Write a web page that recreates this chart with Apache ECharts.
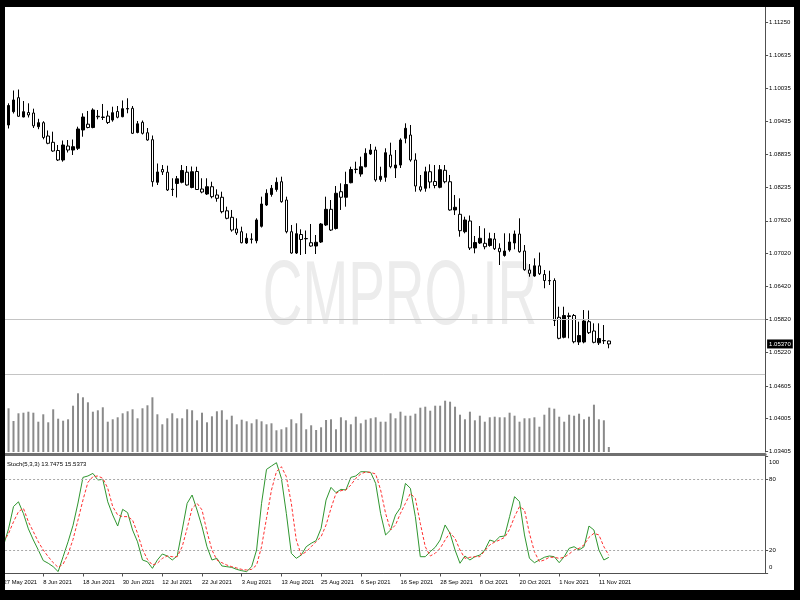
<!DOCTYPE html>
<html><head><meta charset="utf-8">
<script src="https://cdn.jsdelivr.net/npm/echarts@6/dist/echarts.min.js"></script>
<style>
html,body{margin:0;padding:0;background:#000;width:800px;height:600px;overflow:hidden;}
#chart{position:absolute;left:0;top:0;width:800px;height:600px;}
</style></head><body><div id="chart"></div>
<script>
const FONT = '"Liberation Sans",Arial,sans-serif';

// Daily bars, 27 May 2021 .. 15 Nov 2021
const opens = [1.09296,1.09369,1.09612,1.09868,1.09515,1.09597,1.09588,1.09338,1.09411,1.09168,
 1.09053,1.08903,1.08730,1.08985,1.08912,1.08943,1.09278,1.09384,1.09323,1.09528,
 1.09515,1.09533,1.09460,1.09616,1.09521,1.09661,1.09674,1.09232,1.09418,1.09228,
 1.09101,1.08323,1.08556,1.08507,1.08197,1.08301,1.08323,1.08507,1.08228,1.08520,
 1.08200,1.08109,1.08242,1.08091,1.08049,1.07802,1.07683,1.07470,1.07420,1.07214,
 1.07281,1.07256,1.07519,1.07908,1.08100,1.08191,1.08333,1.07999,1.07420,1.07031,
 1.07369,1.07291,1.07219,1.07159,1.07232,1.07543,1.07829,1.07479,1.08151,1.08049,
 1.08315,1.08556,1.08474,1.08607,1.08839,1.08912,1.08374,1.08414,1.08821,1.08584,
 1.08638,1.09126,1.09186,1.08730,1.08242,1.08213,1.08516,1.08337,1.08231,1.08542,
 1.08333,1.07817,1.07738,1.07420,1.07616,1.07123,1.07214,1.07208,1.07168,1.07287,
 1.07117,1.06986,1.07086,1.07214,1.07378,1.07068,1.06721,1.06611,1.06797,1.06639,
 1.06529,1.06529,1.05857,1.05492,1.05871,1.05890,1.05406,1.05406,1.05777,1.05607,
 1.05391,1.05433,1.05424];
const highs = [1.09424,1.09765,1.09999,1.10017,1.09807,1.09765,1.09667,1.09482,1.09438,1.09269,
 1.09247,1.09004,1.09086,1.09095,1.09104,1.09338,1.09583,1.09625,1.09674,1.09643,
 1.09753,1.09630,1.09703,1.09716,1.09817,1.09857,1.09716,1.09442,1.09451,1.09314,
 1.09177,1.08666,1.08638,1.08626,1.08396,1.08438,1.08638,1.08620,1.08611,1.08607,
 1.08396,1.08396,1.08333,1.08195,1.08151,1.07877,1.07817,1.07665,1.07512,1.07391,
 1.07391,1.07665,1.08060,1.08195,1.08273,1.08410,1.08425,1.08060,1.07543,1.07574,
 1.07464,1.07442,1.07561,1.07360,1.07579,1.08060,1.07999,1.08255,1.08304,1.08516,
 1.08607,1.08699,1.08790,1.08943,1.09022,1.08973,1.08607,1.08943,1.09046,1.08912,
 1.09126,1.09400,1.09369,1.08852,1.08456,1.08607,1.08651,1.08638,1.08638,1.08638,
 1.08456,1.08091,1.08030,1.07694,1.07716,1.07342,1.07524,1.07482,1.07402,1.07397,
 1.07208,1.07391,1.07391,1.07442,1.07665,1.07177,1.06830,1.06934,1.07040,1.06721,
 1.06708,1.06569,1.06050,1.06050,1.05941,1.05917,1.05777,1.05990,1.05981,1.05747,
 1.05747,1.05716,1.05430];
const lows = [1.09259,1.09305,1.09579,1.09521,1.09510,1.09506,1.09314,1.09292,1.09108,1.09018,
 1.08880,1.08712,1.08699,1.08867,1.08821,1.08912,1.09155,1.09309,1.09309,1.09473,
 1.09460,1.09387,1.09429,1.09491,1.09510,1.09583,1.09205,1.09217,1.09196,1.09082,
 1.08242,1.08273,1.08456,1.08164,1.08072,1.08045,1.08304,1.08260,1.08213,1.08182,
 1.08122,1.08091,1.08030,1.07968,1.07756,1.07647,1.07420,1.07360,1.07208,1.07196,
 1.07205,1.07208,1.07497,1.07890,1.08060,1.08151,1.07950,1.07391,1.07018,1.07013,
 1.06995,1.07013,1.07146,1.07013,1.07214,1.07524,1.07433,1.07460,1.07817,1.07877,
 1.08304,1.08487,1.08425,1.08596,1.08821,1.08333,1.08333,1.08333,1.08578,1.08401,
 1.08584,1.09035,1.08699,1.08151,1.08151,1.08151,1.08213,1.08213,1.08213,1.08304,
 1.07804,1.07725,1.07329,1.07391,1.07086,1.07026,1.07196,1.07099,1.07146,1.07086,
 1.06812,1.06964,1.07055,1.07099,1.07037,1.06708,1.06598,1.06598,1.06629,1.06387,
 1.06447,1.05698,1.05455,1.05473,1.05473,1.05382,1.05351,1.05382,1.05552,1.05382,
 1.05351,1.05369,1.05291];
const closes = [1.09369,1.09725,1.09826,1.09528,1.09612,1.09552,1.09354,1.09411,1.09141,1.09035,
 1.08894,1.08730,1.09004,1.08912,1.08973,1.09296,1.09515,1.09323,1.09643,1.09519,
 1.09506,1.09415,1.09594,1.09510,1.09667,1.09670,1.09217,1.09391,1.09217,1.09095,
 1.08333,1.08511,1.08511,1.08182,1.08191,1.08386,1.08538,1.08273,1.08516,1.08191,
 1.08145,1.08242,1.08060,1.08030,1.07786,1.07665,1.07451,1.07397,1.07219,1.07300,
 1.07287,1.07634,1.07926,1.08122,1.08213,1.08323,1.07968,1.07420,1.07031,1.07384,
 1.07278,1.07296,1.07159,1.07227,1.07561,1.07829,1.07451,1.08122,1.08049,1.08282,
 1.08556,1.08562,1.08607,1.08852,1.08912,1.08365,1.08432,1.08863,1.08607,1.08638,
 1.09095,1.09309,1.08730,1.08255,1.08182,1.08516,1.08328,1.08264,1.08553,1.08333,
 1.07817,1.07866,1.07439,1.07634,1.07123,1.07223,1.07300,1.07146,1.07291,1.07110,
 1.07055,1.07068,1.07232,1.07378,1.07055,1.06726,1.06660,1.06797,1.06653,1.06529,
 1.06524,1.05798,1.05473,1.05890,1.05884,1.05411,1.05524,1.05789,1.05576,1.05400,
 1.05470,1.05428,1.05370];
const volumes = [40000,43700,31000,38700,39300,40300,39300,30300,37700,29700,
 42700,33300,31300,32700,46300,58700,54700,49700,40300,41700,
 44700,30300,32700,34700,38700,40700,42700,33700,43700,46700,
 54700,37700,27700,33700,38700,33700,33700,42700,41700,31700,
 39300,29700,35700,40700,41700,32300,36300,27700,32300,30700,
 28700,32700,30700,27700,28700,21700,22700,24700,32700,28700,
 38700,22700,26700,22000,24700,32000,32700,22700,34700,31700,
 27700,35300,28700,32300,33700,34700,30300,30300,38700,33700,
 40300,36300,36300,38300,44300,45300,41300,46300,46300,51300,
 50300,45300,37300,32700,40300,31700,36300,30300,34700,35300,
 34700,34700,39300,36300,30300,33700,33700,34700,25300,37300,
 44300,43300,35300,30300,37300,36300,38300,32700,35300,47300,
 32700,31700,5000];
const stochK = [24,38,57,61,51,38,28.5,20,11,8.7,
 5.8,1.6,14.3,27,41,60,81.8,83,85.2,79.6,
 80.1,61,49.8,40.4,54.6,51.8,37,27,11.5,10,
 4.4,11.5,16.6,14.9,11.5,14.9,37,59.7,66.8,54,
 39.9,22.8,11.5,12.9,6.4,5.8,5.2,3.5,2.4,1.6,
 5.8,20,59.7,88.6,91.5,94.3,81,51,17.2,12.9,
 15.7,22.8,25.7,28,38.4,62.5,73.3,68.8,71.6,71.1,
 81.8,83,86.6,86.6,86,76.7,51,32.8,37,49.8,
 56,76.7,72.5,48.4,14.3,14.3,18.6,22.3,28.5,41.3,
 34.2,20,8.7,14.9,11.5,14.3,15.7,20,28.5,27.1,
 31.3,31.9,48.4,65.4,61.1,32.8,12.9,9.2,11.5,13.8,
 14.9,14.3,9.2,14.3,21.4,22.8,20,22.8,40.4,37,
 20,11.5,13.7475];
const stochD = [27,34,44,52.6,55.5,44,35.6,27,20,14.3,
 9.2,5.2,8,16.6,29,45.5,62.5,77.6,82.4,83,
 81,72.5,56.9,49.8,48.4,48.4,45.5,34.2,20.6,12,
 7.2,8.7,12.9,14.9,14.3,14.3,22.8,38.4,55.5,59.7,
 54.1,35.6,20,11.5,9.2,7.2,5.8,4.7,3.5,3,
 3.5,7.2,22.8,47,71.1,86.6,90.9,82.4,59.7,28.5,
 15.7,18.6,22.8,27.1,31.3,41.3,55.5,68.2,70.5,71.1,
 75.3,81,84.7,86.4,86,84.7,71.1,51.2,37,41.3,
 51.2,59.7,68.2,64,42.7,22.8,14.9,17.2,21.4,28.5,
 34.7,29.9,20,12.9,13.8,14.3,14.3,19.4,24.3,26.8,
 28.5,30.8,37.6,48.4,56.9,54.1,34.2,18.6,10.1,11.5,
 13.8,13.8,12.9,13.8,16.6,20,21.4,24.3,30.8,34.2,
 32.8,22.8,15.5373];

const priceTicks = [1.11250,1.10635,1.10035,1.09435,1.08835,1.08235,1.07620,1.07020,1.06420,1.05820,1.05220,1.04605,1.04005,1.03405];
const stochTicks = [0,20,80,100];
const hLines = [1.05820, 1.04820];
const lastPrice = 1.05370;
const stochTitle = 'Stoch(5,3,3) 13.7475 15.5373';
const watermark = 'CMPRO.IR';

// trading-day categories (Mon-Fri), including empty slots to the right
const MONTHS = ['Jan','Feb','Mar','Apr','May','Jun','Jul','Aug','Sep','Oct','Nov','Dec'];
function tradingDays(y, m, d, n) {
  const out = []; let t = Date.UTC(y, m, d);
  while (out.length < n) {
    const dt = new Date(t); const wd = dt.getUTCDay();
    if (wd !== 0 && wd !== 6) out.push(dt.getUTCDate() + ' ' + MONTHS[dt.getUTCMonth()] + ' ' + dt.getUTCFullYear());
    t += 86400000;
  }
  return out;
}
const categories = tradingDays(2021, 4, 27, 154);
const labelEvery = (i) => i % 8 === 0 && i <= 120;

const ohlc = opens.map((o, i) => [o, closes[i], lows[i], highs[i]]);

const chart = echarts.init(document.getElementById('chart'), null, {renderer: 'canvas'});
const axisCol = '#505050';
const frame = (x, y, w, h) => ({type: 'rect', z: 100, silent: true, shape: {x, y, width: w, height: h}, style: {fill: '#000'}});
chart.setOption({
  animation: false,
  backgroundColor: '#fff',
  title: {text: stochTitle, left: 7, top: 461, padding: 0,
    textStyle: {fontSize: 6, fontWeight: 'normal', fontFamily: FONT, color: '#000'}},
  graphic: [
    {type: 'text', x: 400, y: 299, scaleX: 0.61, silent: true, z: 0,
      style: {text: watermark, fontSize: 90, fontFamily: FONT, fill: '#ececec', align: 'center', verticalAlign: 'middle'}},
    frame(0, 0, 800, 7), frame(0, 0, 5, 600), frame(794, 0, 6, 600), frame(0, 590, 800, 10)
  ],
  grid: [
    {left: 1.1, top: 7, width: 764, height: 445, containLabel: false, outerBoundsMode: 'none'},
    {left: 1.1, top: 456, width: 764, height: 117.5, containLabel: false, outerBoundsMode: 'none'}
  ],
  xAxis: [
    {type: 'category', gridIndex: 0, data: categories, boundaryGap: true, offset: 2,
      axisLine: {show: true, onZero: false, lineStyle: {color: '#707070', width: 3}},
      axisTick: {show: false}, axisLabel: {show: false}, splitLine: {show: false}},
    {type: 'category', gridIndex: 1, data: categories, boundaryGap: true,
      axisLine: {show: true, onZero: false, lineStyle: {color: axisCol, width: 1}},
      axisTick: {show: true, alignWithLabel: true, interval: labelEvery, length: 3, lineStyle: {color: axisCol}},
      axisLabel: {interval: labelEvery, showMinLabel: true, align: 'left', margin: 6, fontSize: 5.8, fontFamily: FONT, color: '#000'},
      splitLine: {show: false}}
  ],
  yAxis: [
    {type: 'value', gridIndex: 0, position: 'right', min: 1.03397, max: 1.11524,
      axisLine: {show: true, lineStyle: {color: axisCol}},
      axisTick: {show: true, length: 3, customValues: priceTicks, lineStyle: {color: axisCol}},
      axisLabel: {customValues: priceTicks, formatter: v => v.toFixed(5), margin: 4, fontSize: 6, fontFamily: FONT, color: '#000'},
      splitLine: {show: false}},
    {type: 'value', gridIndex: 0, min: 0, max: 445000, show: false, splitLine: {show: false}},
    {type: 'value', gridIndex: 1, position: 'right', min: 0, max: 100,
      axisLine: {show: true, lineStyle: {color: axisCol}},
      axisTick: {show: true, length: 3, customValues: stochTicks, lineStyle: {color: axisCol}},
      axisLabel: {customValues: stochTicks, margin: 4, fontSize: 6, fontFamily: FONT, color: '#000',
        formatter: v => v === 100 ? '{t|100}' : (v === 0 ? '{b|0}' : String(v)),
        rich: {t: {padding: [12, 0, 0, 0], fontSize: 6, fontFamily: FONT, color: '#000'},
               b: {padding: [0, 0, 13, 0], fontSize: 6, fontFamily: FONT, color: '#000'}}},
      splitLine: {show: false}}
  ],
  series: [
    {type: 'bar', name: 'Volume', xAxisIndex: 0, yAxisIndex: 1, data: volumes, barWidth: 2,
      itemStyle: {color: '#8a8a8a'}, z: 1, silent: true},
    {type: 'candlestick', name: 'Price', xAxisIndex: 0, yAxisIndex: 0, data: ohlc, barWidth: 3,
      itemStyle: {color: '#000', color0: '#fff', borderColor: '#000', borderColor0: '#000', borderColorDoji: '#000', borderWidth: 1},
      z: 3,
      markLine: {silent: true, symbol: ['none', 'none'], animation: false, precision: 5, label: {show: false},
        data: [
          {yAxis: hLines[0], lineStyle: {color: '#c4c4c4', width: 1, type: 'solid'}},
          {yAxis: hLines[1], lineStyle: {color: '#c4c4c4', width: 1, type: 'solid'}},
          {yAxis: lastPrice, lineStyle: {color: 'rgba(0,0,0,0)', width: 1},
            label: {show: true, position: 'end', distance: 2, formatter: lastPrice.toFixed(5),
              backgroundColor: '#000', color: '#fff', padding: [2, 2, 1, 2], fontSize: 6, fontFamily: FONT}}
        ]}},
    {type: 'line', name: '%K', xAxisIndex: 1, yAxisIndex: 2, data: stochK, symbol: 'none',
      lineStyle: {color: '#2f962f', width: 1},
      markLine: {silent: true, symbol: ['none', 'none'], animation: false, precision: 2, label: {show: false},
        lineStyle: {color: '#a8a8a8', width: 1, type: [2, 2]},
        data: [{yAxis: 20}, {yAxis: 80}]}},
    {type: 'line', name: '%D', xAxisIndex: 1, yAxisIndex: 2, data: stochD, symbol: 'none',
      lineStyle: {color: '#ff3030', width: 1, type: [3, 2]}}
  ]
});
</script></body></html>
